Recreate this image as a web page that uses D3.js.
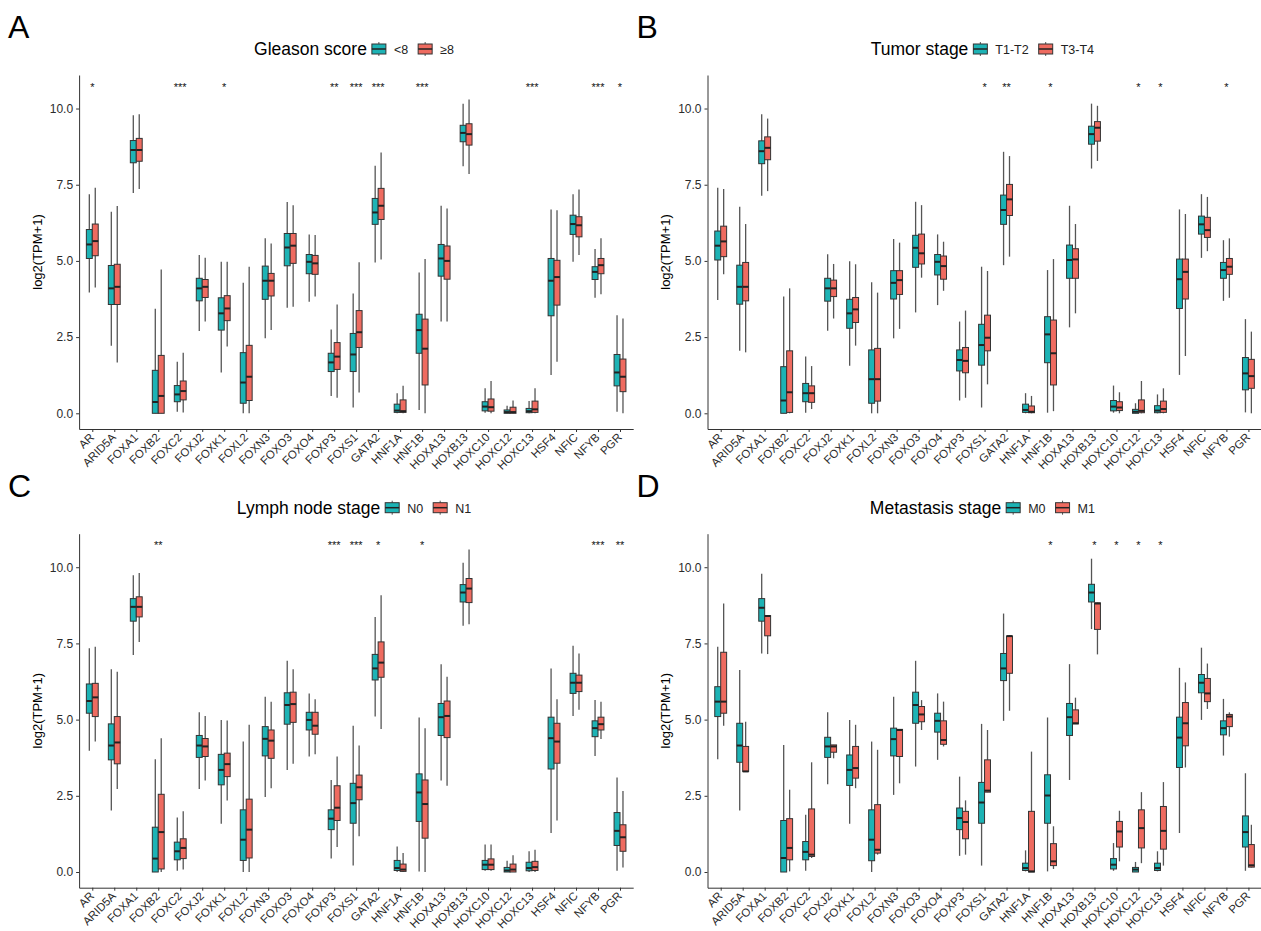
<!DOCTYPE html>
<html>
<head>
<meta charset="utf-8">
<script src="https://cdn.jsdelivr.net/npm/d3@7"></script>
<style>
  body { margin: 0; background: #fff; }
  svg text { font-family: "Liberation Sans", Arial, sans-serif; }
</style>
</head>
<body>
<svg id="chart" width="1261" height="931"></svg>
<script>
var genes = ['AR','ARID5A','FOXA1','FOXB2','FOXC2','FOXJ2','FOXK1','FOXL2','FOXN3','FOXO3','FOXO4',
  'FOXP3','FOXS1','GATA2','HNF1A','HNF1B','HOXA13','HOXB13','HOXC10','HOXC12','HOXC13','HSF4','NFIC','NFYB','PGR'];

// five numbers per gene: [lower whisker, q1, median, q3, upper whisker]
var gleasonLow = [[3.96,5.08,5.54,6.03,7.19],[2.22,3.57,4.10,4.85,6.61],[7.23,8.22,8.64,8.95,9.78],[0,0,0.37,1.41,3.43],
  [0.05,0.38,0.62,0.91,1.69],[2.70,3.69,4.10,4.43,5.19],[1.34,2.73,3.28,3.79,4.97],[0,0.33,1.01,1.99,4.28],
  [2.46,3.74,4.35,4.83,5.74],[3.46,4.84,5.44,5.90,6.93],[3.66,4.58,4.97,5.21,5.87],[0.57,1.37,1.67,1.97,2.75],
  [0.19,1.37,1.93,2.62,3.93],[4.95,6.20,6.59,7.05,8.12],[0,0.03,0.09,0.30,0.66],[0.11,1.97,2.73,3.25,4.62],
  [3.01,4.50,5.08,5.54,6.81],[8.11,8.91,9.20,9.45,10.16],[0.02,0.08,0.22,0.38,0.82],[0,0,0.04,0.11,0.25],
  [0,0.02,0.07,0.16,0.40],[1.26,3.20,4.35,5.08,6.69],[4.97,5.87,6.21,6.50,7.19],[3.79,4.39,4.64,4.81,5.39],
  [0.05,0.90,1.34,1.93,3.22]];
var gleasonHigh = [[4.13,5.17,5.65,6.21,7.40],[1.67,3.57,4.15,4.89,6.80],[7.36,8.27,8.64,9.02,9.81],[0,0,0.57,1.90,4.72],
  [0.03,0.44,0.73,1.06,1.99],[3.01,3.80,4.15,4.39,5.10],[2.19,3.04,3.44,3.86,4.97],[0,0.42,1.20,2.23,4.81],
  [2.73,3.85,4.35,4.59,5.57],[3.50,4.92,5.50,5.90,6.83],[3.83,4.56,4.92,5.18,5.85],[0.51,1.44,1.86,2.32,3.57],
  [0.68,2.16,2.66,3.37,4.96],[5.05,6.36,6.81,7.38,8.56],[0,0.03,0.07,0.44,0.90],[0,0.93,2.12,3.09,5.06],
  [3.01,4.40,5.00,5.49,6.72],[7.85,8.80,9.16,9.50,10.30],[0,0.07,0.20,0.47,1.06],[0,0,0.04,0.20,0.42],
  [0,0.03,0.13,0.40,0.82],[1.69,3.55,4.47,5.02,6.66],[5.19,5.79,6.17,6.45,7.34],[3.91,4.58,4.86,5.08,5.74],
  [0,0.71,1.20,1.78,3.11]];
var gleasonStars = ['*','','','','***','','*','','','','','**','***','***','','***','','','','','***','','','***','*'];

var tumorLow = [[3.72,5.03,5.50,5.98,7.40],[2.05,3.58,4.15,4.86,6.78],[7.14,8.19,8.60,8.94,9.81],[0,0,0.42,1.53,3.83],
  [0.02,0.38,0.66,0.98,1.86],[2.71,3.68,4.10,4.43,5.22],[1.56,2.79,3.28,3.74,4.99],[0,0.33,1.12,2.08,4.30],
  [2.46,3.75,4.28,4.68,5.72],[3.31,4.79,5.43,5.84,6.94],[3.55,4.54,4.97,5.21,5.87],[0.42,1.39,1.75,2.08,3.01],
  [0.19,1.58,2.24,2.92,4.81],[4.86,6.20,6.67,7.16,8.58],[0,0.03,0.11,0.30,0.66],[0.02,1.66,2.59,3.17,4.70],
  [2.82,4.43,5.03,5.52,6.81],[8.03,8.83,9.16,9.42,10.16],[0.02,0.08,0.22,0.42,0.91],[0,0,0.05,0.13,0.33],
  [0,0.02,0.09,0.25,0.62],[1.26,3.44,4.40,5.06,6.69],[5.10,5.88,6.20,6.47,7.19],[3.69,4.43,4.70,4.95,5.68],
  [0.03,0.77,1.31,1.83,3.09]];
var tumorHigh = [[4.56,5.14,5.64,6.14,7.36],[2.00,3.69,4.15,4.95,6.21],[7.29,8.32,8.71,9.07,9.67],[0,0.03,0.69,2.05,4.10],
  [0.14,0.36,0.66,0.90,1.55],[3.11,3.83,4.10,4.37,4.90],[2.22,2.98,3.41,3.80,4.89],[0,0.40,1.12,2.13,3.96],
  [2.77,3.90,4.37,4.68,5.60],[4.45,4.90,5.25,5.88,6.83],[4.02,4.40,4.83,5.16,5.63],[0.51,1.33,1.72,2.16,3.37],
  [0.95,2.05,2.48,3.22,4.67],[5.14,6.49,7.02,7.51,8.44],[0,0.02,0.05,0.24,0.57],[0.07,0.93,1.97,3.06,5.06],
  [3.28,4.43,5.05,5.40,6.21],[8.28,8.93,9.37,9.57,10.09],[0,0.09,0.19,0.38,0.69],[0,0.02,0.08,0.44,1.06],
  [0,0.03,0.14,0.40,0.82],[1.88,3.75,4.64,5.06,6.54],[5.32,5.77,6.01,6.43,7.10],[3.79,4.56,4.81,5.08,5.74],
  [0,0.82,1.22,1.77,2.68]];
var tumorStars = ['','','','','','','','','','','','','*','**','','*','','','','*','*','','','*',''];

var nodeN0 = [[3.98,5.21,5.61,6.17,7.34],[2.02,3.68,4.15,4.86,6.65],[7.12,8.23,8.70,8.97,9.74],[0,0,0.44,1.47,3.70],
  [0.04,0.40,0.68,0.98,1.79],[2.72,3.76,4.15,4.48,5.24],[1.58,2.86,3.35,3.86,4.99],[0,0.38,1.06,2.04,4.28],
  [2.46,3.81,4.37,4.77,5.75],[3.35,4.85,5.48,5.88,6.93],[3.79,4.66,4.99,5.24,5.86],[0.44,1.39,1.75,2.04,3.02],
  [0.21,1.60,2.26,2.91,4.80],[5.10,6.30,6.68,7.14,8.37],[0,0.05,0.13,0.38,0.84],[0.02,1.66,2.61,3.22,5.07],
  [3.00,4.48,5.08,5.53,6.82],[8.08,8.86,9.17,9.43,10.15],[0.04,0.08,0.24,0.38,0.90],[0,0,0.05,0.15,0.37],
  [0,0.04,0.13,0.32,0.68],[1.28,3.38,4.39,5.08,6.68],[5.12,5.86,6.21,6.52,7.42],[3.81,4.44,4.72,4.96,5.64],
  [0.04,0.87,1.35,1.95,3.10]];
var nodeN1 = [[4.28,5.10,5.73,6.19,7.39],[2.72,3.55,4.25,5.10,6.57],[7.55,8.37,8.70,9.03,9.81],[0,0.10,1.31,2.55,4.39],
  [0.08,0.44,0.79,1.09,1.99],[3.00,3.79,4.12,4.38,5.12],[2.35,3.13,3.54,3.90,4.97],[0,0.46,1.39,2.39,4.83],
  [2.75,3.73,4.31,4.66,5.59],[3.55,4.91,5.51,5.90,6.65],[3.86,4.52,4.80,5.24,5.67],[0.82,1.69,2.11,2.83,3.79],
  [1.17,2.37,2.78,3.18,4.15],[4.69,6.39,6.87,7.55,9.08],[0,0.02,0.08,0.26,0.62],[0,1.11,2.23,3.02,4.72],
  [2.83,4.41,5.12,5.61,6.41],[8.13,8.84,9.30,9.63,10.58],[0.04,0.08,0.24,0.43,0.90],[0,0,0.08,0.26,0.55],
  [0,0.05,0.16,0.35,0.73],[1.69,3.57,4.28,4.88,5.67],[5.32,5.92,6.21,6.46,7.17],[4.36,4.66,4.85,5.08,5.59],
  [0.15,0.68,1.14,1.55,2.66]];
var nodeStars = ['','','','**','','','','','','','','***','***','*','','*','','','','','','','','***','**'];

var metaM0 = [[3.70,5.10,5.59,6.08,7.39],[2.02,3.60,4.15,4.88,6.63],[7.17,8.23,8.67,8.97,9.79],[0,0,0.46,1.69,4.17],
  [0.04,0.40,0.66,1.00,1.88],[2.88,3.76,4.12,4.42,5.24],[1.58,2.84,3.35,3.84,4.99],[0,0.37,1.06,2.04,4.28],
  [2.53,3.81,4.36,4.72,5.75],[3.46,4.88,5.48,5.90,6.93],[3.68,4.59,4.96,5.21,5.86],[0.53,1.39,1.77,2.10,3.13],
  [0.21,1.60,2.28,2.94,4.86],[4.96,6.28,6.68,7.17,8.48],[0.02,0.05,0.13,0.29,0.71],[0.02,1.60,2.51,3.19,5.07],
  [3.02,4.48,5.08,5.53,6.82],[7.97,8.86,9.17,9.44,10.28],[0.04,0.10,0.24,0.44,0.95],[0,0,0.08,0.15,0.33],
  [0.02,0.05,0.13,0.29,0.68],[1.28,3.43,4.41,5.08,6.70],[4.99,5.88,6.21,6.48,7.36],[3.82,4.50,4.72,4.96,5.68],
  [0.04,0.82,1.31,1.84,3.24]];
var metaM1 = [[4.80,5.21,5.59,7.21,8.81],[3.30,3.30,3.30,4.12,4.93],[7.15,7.75,8.40,8.41,8.41],[0.02,0.40,0.79,1.75,2.70],
  [0.46,0.51,0.57,2.07,3.60],[3.73,3.93,4.12,4.17,4.17],[2.75,3.08,3.41,4.12,4.83],[0.57,0.62,0.73,2.21,4.01],
  [2.91,3.79,4.66,4.68,4.68],[4.66,4.93,5.17,5.43,5.64],[4.12,4.19,4.33,4.96,5.59],[0.57,1.09,1.64,1.99,2.35],
  [2.62,2.62,2.67,3.68,4.66],[5.29,6.52,7.74,7.74,7.77],[0,0,0.02,1.99,3.95],[0.10,0.21,0.35,0.93,1.50],
  [4.86,4.86,4.88,5.32,5.72],[7.14,7.96,8.81,8.83,8.84],[0.35,0.82,1.33,1.66,2.01],[0.29,0.79,1.44,2.04,2.62],
  [0.21,0.75,1.35,2.15,2.95],[3.43,4.14,4.88,5.56,6.22],[5.35,5.59,5.86,6.35,6.84],[4.44,4.77,5.10,5.17,5.24],
  [0.15,0.16,0.22,0.90,1.55]];
var metaStars = ['','','','','','','','','','','','','','','','*','','*','*','*','*','','','',''];

var panels = [
  {tag:'A', title:'Gleason score', groups:['<8','\u22658'], low:gleasonLow, high:gleasonHigh, stars:gleasonStars, dx:0, dy:0},
  {tag:'B', title:'Tumor stage', groups:['T1-T2','T3-T4'], low:tumorLow, high:tumorHigh, stars:tumorStars, dx:628.4, dy:0},
  {tag:'C', title:'Lymph node stage', groups:['N0','N1'], low:nodeN0, high:nodeN1, stars:nodeStars, dx:0, dy:458.7},
  {tag:'D', title:'Metastasis stage', groups:['M0','M1'], low:metaM0, high:metaM1, stars:metaStars, dx:628.4, dy:458.7}
];
var colors = ['#1db3b5', '#ee6b60'];

var svg = d3.select('#chart');
svg.append('rect').attr('width', 1261).attr('height', 931).attr('fill', '#fff');

panels.forEach(function (p) {
  var g = svg.append('g').attr('transform', 'translate(' + p.dx + ',' + p.dy + ')');

  var x = d3.scalePoint().domain(genes).range([79.1, 633.2]).padding(0.6);
  var y = d3.scaleLinear().domain([-0.515, 11.1]).range([429, 75]);
  var bw = x.step() * 0.27;

  var rows = [];
  genes.forEach(function (gn, i) {
    rows.push({gene: gn, grp: 0, v: p.low[i]});
    rows.push({gene: gn, grp: 1, v: p.high[i]});
  });
  var cx = function (d) { return x(d.gene) + (d.grp === 0 ? -bw / 2 : bw / 2); };

  var box = g.selectAll('.box').data(rows).enter().append('g').attr('class', 'box');
  box.append('line')
    .attr('x1', cx).attr('x2', cx)
    .attr('y1', function (d) { return y(d.v[0]); })
    .attr('y2', function (d) { return y(d.v[4]); })
    .attr('stroke', '#555').attr('stroke-width', 1.3);
  box.append('rect')
    .attr('x', function (d) { return cx(d) - bw / 2; })
    .attr('y', function (d) { return y(d.v[3]); })
    .attr('width', bw)
    .attr('height', function (d) { return y(d.v[1]) - y(d.v[3]); })
    .attr('fill', function (d) { return colors[d.grp]; })
    .attr('stroke', '#333').attr('stroke-width', 1);
  box.append('line')
    .attr('x1', function (d) { return cx(d) - bw / 2; })
    .attr('x2', function (d) { return cx(d) + bw / 2; })
    .attr('y1', function (d) { return y(d.v[2]); })
    .attr('y2', function (d) { return y(d.v[2]); })
    .attr('stroke', '#222').attr('stroke-width', 2);

  // significance marks
  g.selectAll('.star').data(genes).enter().append('text')
    .attr('x', function (d) { return x(d); })
    .attr('y', y(10.78) + 6)
    .attr('text-anchor', 'middle')
    .attr('font-size', 11)
    .style('fill', '#111')
    .text(function (d, i) { return p.stars[i]; });

  // axes
  var yAxis = g.append('g').attr('transform', 'translate(79.1,0)')
    .call(d3.axisLeft(y).tickValues([0, 2.5, 5, 7.5, 10]).tickFormat(d3.format('.1f')).tickSize(3).tickSizeOuter(0));
  var xAxis = g.append('g').attr('transform', 'translate(0,429)')
    .call(d3.axisBottom(x).tickSize(3).tickSizeOuter(0));
  [yAxis, xAxis].forEach(function (a) {
    a.select('.domain').attr('stroke', '#333');
    a.selectAll('.tick line').attr('stroke', '#333');
    a.selectAll('text').attr('fill', '#2b2b2b').attr('font-size', 12);
  });
  xAxis.selectAll('text')
    .attr('x', 0).attr('y', 0).attr('dy', 0)
    .attr('font-size', 11.5)
    .attr('text-anchor', 'end')
    .attr('transform', 'translate(2,9) rotate(-45)');

  g.append('text')
    .attr('transform', 'translate(42,252) rotate(-90)')
    .attr('text-anchor', 'middle')
    .attr('font-size', 13)
    .text('log2(TPM+1)');

  // panel letter
  g.append('text').attr('x', 8).attr('y', 38).attr('font-size', 32).text(p.tag);

  // legend on top
  var lg = g.append('g');
  var t = lg.append('text').attr('x', 0).attr('y', 0).attr('font-size', 17.5).text(p.title);
  var cur = t.node().getComputedTextLength() + 5;
  p.groups.forEach(function (lab, i) {
    lg.append('line').attr('x1', cur + 7).attr('x2', cur + 7).attr('y1', -13).attr('y2', 1)
      .attr('stroke', '#555').attr('stroke-width', 1);
    lg.append('rect').attr('x', cur).attr('y', -11).attr('width', 14).attr('height', 10)
      .attr('fill', colors[i]).attr('stroke', '#333');
    lg.append('line').attr('x1', cur).attr('x2', cur + 14).attr('y1', -6).attr('y2', -6)
      .attr('stroke', '#222').attr('stroke-width', 1.5);
    cur += 22;
    var lt = lg.append('text').attr('x', cur).attr('y', -1).attr('font-size', 12.5).attr('fill', '#222').text(lab);
    cur += lt.node().getComputedTextLength() + 10;
  });
  cur -= 10;
  lg.attr('transform', 'translate(' + (354 - cur / 2) + ',55)');
});
</script>
</body>
</html>
